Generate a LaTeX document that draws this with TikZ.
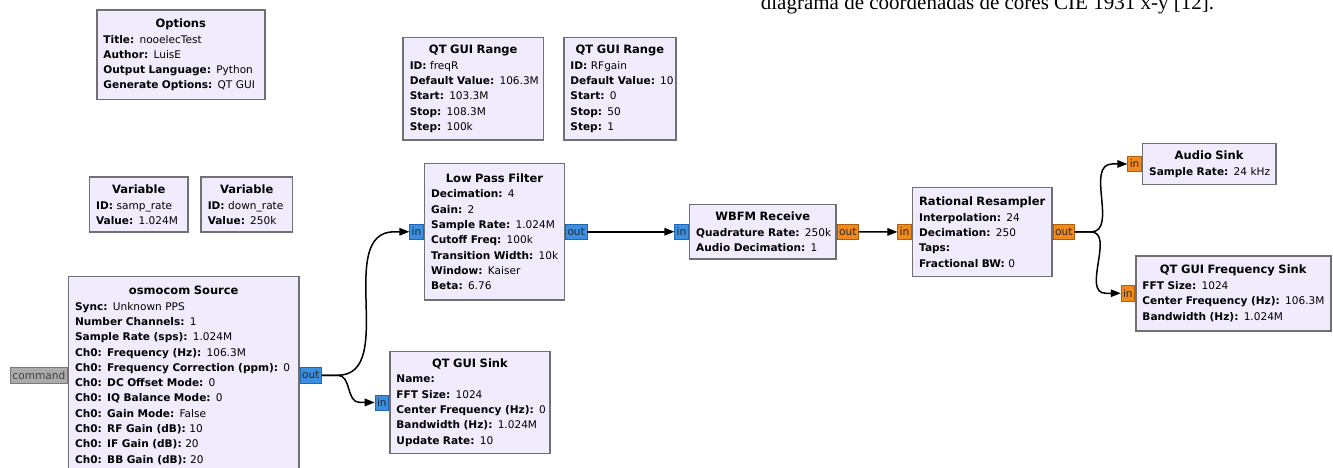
\documentclass[tikz,border=0pt]{standalone}
\usepackage{fontspec}
\setmainfont{DejaVu Sans}
\newfontfamily\capfont{Liberation Serif}
\usetikzlibrary{arrows.meta,calc}

\definecolor{blockfill}{HTML}{F0ECFD}
\definecolor{blockline}{HTML}{707070}
\definecolor{cplxport}{HTML}{3A8FE2}
\definecolor{cplxedge}{HTML}{2466B0}
\definecolor{fltport}{HTML}{F0891E}
\definecolor{fltedge}{HTML}{B0600A}
\definecolor{msgport}{HTML}{ABABAB}
\definecolor{msgedge}{HTML}{7A7A7A}

% one "key: value" parameter line
\newcommand\kv[2]{\mbox{\textbf{#1:} #2}}
% centred block heading
\newcommand\btitle[1]{\makebox[\linewidth][c]{\fontsize{11.5}{15.3}\selectfont\bfseries #1}\\[0.4pt]}
% block: name, left, top, width, height, contents
\newcommand\grcblock[6]{%
  \pgfmathsetlengthmacro\blocktw{#4-13.4}%
  \node[grc, minimum width=#4, minimum height=#5, text width=\blocktw,
        anchor=north west] (#1) at (#2,#3) {#6};}

\tikzset{
  grc/.style={draw=blockline, line width=1.5pt, fill=blockfill,
    inner xsep=6.7pt, inner ysep=0pt, text=black,
    font=\fontsize{10.55}{15.3}\selectfont},
  port/.style={line width=0.6pt, minimum height=15.3pt, inner xsep=2pt,
    inner ysep=0pt, text=black!85, font=\fontsize{10.6}{12}\selectfont},
  cport/.style={port, fill=cplxport, draw=cplxedge},
  fport/.style={port, fill=fltport, draw=fltedge},
  mport/.style={port, fill=msgport, draw=msgedge, text=black!75},
  wire/.style={line width=1.5pt, -{Triangle[length=10pt,width=7.5pt]}},
}

\begin{document}
\begin{tikzpicture}[x=1pt, y=-1pt]
\useasboundingbox (0,0) rectangle (1333,468);
\clip (0,0) rectangle (1333,468);

\node[font=\capfont\fontsize{21}{25}\selectfont, anchor=base west, inner sep=0pt]
  (caption) at (760.7,9.5) {diagrama de coordenadas de cores CIE 1931 x-y [12].};

\grcblock{opt}{96}{9.3}{168}{89.7}{\btitle{Options}
  \kv{Title}{nooelecTest}\\
  \kv{Author}{LuisE}\\
  \kv{Output Language}{Python}\\
  \kv{Generate Options}{QT GUI}}

\grcblock{rng1}{402.3}{36.7}{140.4}{102.6}{\btitle{QT GUI Range}
  \kv{ID}{freqR}\\
  \kv{Default Value}{106.3M}\\
  \kv{Start}{103.3M}\\
  \kv{Stop}{108.3M}\\
  \kv{Step}{100k}}

\grcblock{rng2}{563}{36.7}{112.3}{102.6}{\btitle{QT GUI Range}
  \kv{ID}{RFgain}\\
  \kv{Default Value}{10}\\
  \kv{Start}{0}\\
  \kv{Stop}{50}\\
  \kv{Step}{1}}

\grcblock{var1}{88.7}{176.3}{98.6}{55}{\btitle{Variable}
  \kv{ID}{samp\_rate}\\
  \kv{Value}{1.024M}}

\grcblock{var2}{200.3}{176.3}{91.4}{55}{\btitle{Variable}
  \kv{ID}{down\_rate}\\
  \kv{Value}{250k}}

\grcblock{lpf}{423.7}{162.7}{140}{136.6}{\btitle{Low Pass Filter}
  \kv{Decimation}{4}\\
  \kv{Gain}{2}\\
  \kv{Sample Rate}{1.024M}\\
  \kv{Cutoff Freq}{100k}\\
  \kv{Transition Width}{10k}\\
  \kv{Window}{Kaiser}\\
  \kv{Beta}{6.76}}

\grcblock{osm}{67.7}{275.7}{230.6}{197.6}{\btitle{osmocom Source}
  \kv{Sync}{Unknown PPS}\\
  \kv{Number Channels}{1}\\
  \kv{Sample Rate (sps)}{1.024M}\\
  \kv{Ch0: Frequency (Hz)}{106.3M}\\
  \kv{Ch0: Frequency Correction (ppm)}{0}\\
  \kv{Ch0: DC Offset Mode}{0}\\
  \kv{Ch0: IQ Balance Mode}{0}\\
  \kv{Ch0: Gain Mode}{False}\\
  \kv{Ch0: RF Gain (dB)}{10}\\
  \kv{Ch0: IF Gain (dB)}{20}\\
  \kv{Ch0: BB Gain (dB)}{20}}

\grcblock{qs}{389}{350.7}{160.3}{102}{\btitle{QT GUI Sink}
  \kv{Name}{}\\
  \kv{FFT Size}{1024}\\
  \kv{Center Frequency (Hz)}{0}\\
  \kv{Bandwidth (Hz)}{1.024M}\\
  \kv{Update Rate}{10}}

\grcblock{wb}{688.7}{203.7}{146.6}{54.6}{\btitle{WBFM Receive}
  \kv{Quadrature Rate}{250k}\\
  \kv{Audio Decimation}{1}}

\grcblock{rr}{911.7}{186.7}{139.6}{89}{\btitle{Rational Resampler}
  \kv{Interpolation}{24}\\
  \kv{Decimation}{250}\\
  \kv{Taps}{}\\
  \kv{Fractional BW}{0}}

\grcblock{as}{1141.7}{142.7}{133.3}{41}{\btitle{Audio Sink}
  \kv{Sample Rate}{24 kHz}}

\grcblock{fs}{1135}{255}{195}{75}{\btitle{QT GUI Frequency Sink}
  \kv{FFT Size}{1024}\\
  \kv{Center Frequency (Hz)}{106.3M}\\
  \kv{Bandwidth (Hz)}{1.024M}}

% ports
\node[mport, anchor=east] (osm-cmd) at (osm.west) {command};
\node[cport, anchor=west] (osm-out) at (osm.east) {out};
\node[cport, anchor=east] (lpf-in) at (lpf.west) {in};
\node[cport, anchor=west] (lpf-out) at (lpf.east) {out};
\node[cport, anchor=east] (qs-in) at (qs.west) {in};
\node[cport, anchor=east] (wb-in) at (wb.west) {in};
\node[fport, anchor=west] (wb-out) at (wb.east) {out};
\node[fport, anchor=east] (rr-in) at (rr.west) {in};
\node[fport, anchor=west] (rr-out) at (rr.east) {out};
\node[fport, anchor=east] (as-in) at (as.west) {in};
\node[fport, anchor=east] (fs-in) at (fs.west) {in};

% connections
\draw[wire] (osm-out.east) -- ++(16,0) to[out=0,in=180]
  ($(lpf-in.west)+(-15,0)$) -- (lpf-in.west);
\draw[wire] (osm-out.east) -- ++(16,0) to[out=0,in=180]
  ($(qs-in.west)+(-15,0)$) -- (qs-in.west);
\draw[wire] (lpf-out.east) -- (wb-in.west);
\draw[wire] (wb-out.east) -- (rr-in.west);
\draw[wire] (rr-out.east) -- ++(16,0) to[out=0,in=180]
  ($(as-in.west)+(-15,0)$) -- (as-in.west);
\draw[wire] (rr-out.east) -- ++(16,0) to[out=0,in=180]
  ($(fs-in.west)+(-15,0)$) -- (fs-in.west);
\end{tikzpicture}
\end{document}
